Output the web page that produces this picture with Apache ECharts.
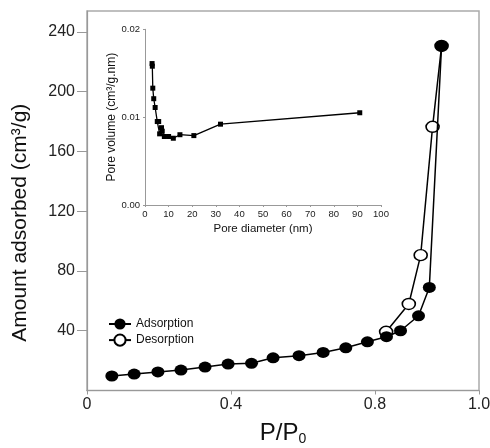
<!DOCTYPE html>
<html>
<head>
<meta charset="utf-8">
<script src="https://cdn.jsdelivr.net/npm/echarts@6/dist/echarts.min.js"></script>
<style>
html,body{margin:0;padding:0;background:#fff;}
#c{width:490px;height:448px;}
</style>
</head>
<body>
<div id="c"></div>
<script>
// Main isotherm data (P/P0, amount adsorbed cm3/g)
const adsX = [0.069, 0.131, 0.197, 0.261, 0.328, 0.392, 0.457, 0.517, 0.589, 0.656, 0.719, 0.779, 0.832, 0.871, 0.921, 0.951, 0.985];
const adsY = [9.7, 11.0, 12.4, 13.7, 15.7, 17.7, 18.2, 21.9, 23.3, 25.5, 28.6, 32.6, 36.0, 40.0, 50.0, 69.0, 230.6];
const desX = [0.985, 0.960, 0.927, 0.894, 0.831];
const desY = [230.6, 176.5, 90.6, 57.9, 39.3];
const xTickValues = [0, 0.4, 0.8, 1.089];
const yTickValues = [40, 80, 120, 160, 200, 240];

// Inset: pore size distribution (pore diameter nm, pore volume cm3/g.nm)
const poreD = [3.0, 3.1, 3.3, 3.7, 4.3, 5.2, 5.8, 6.2, 7.0, 7.3, 8.2, 10.0, 12.0, 14.8, 20.7, 32.0, 91.0];
const poreV = [0.0161, 0.0158, 0.0133, 0.0121, 0.0111, 0.0095, 0.0095, 0.0081, 0.0088, 0.0084, 0.0078, 0.0078, 0.0076, 0.0080, 0.0079, 0.0092, 0.0105];

const zip = (a, b) => a.map((v, i) => [v, b[i]]);
const FONT = '"Liberation Sans", Arial, sans-serif';

const chart = echarts.init(document.getElementById('c'), null, {renderer: 'canvas'});
chart.setOption({
  animation: false,
  backgroundColor: '#fff',
  textStyle: {fontFamily: FONT},
  legend: {
    orient: 'vertical',
    left: 103,
    top: 313,
    itemWidth: 22,
    itemHeight: 14,
    itemGap: 3.5,
    textStyle: {fontSize: 12, color: '#111', fontFamily: FONT},
    data: ['Adsorption', 'Desorption']
  },
  grid: [
    {left: 87, right: 11, top: 11, bottom: 57.5, show: true, borderColor: '#aaa', borderWidth: 1.5,
     containLabel: false, outerBoundsMode: 'none'},
    {left: 145, right: 109, top: 29.3, bottom: 243, containLabel: false, outerBoundsMode: 'none'}
  ],
  xAxis: [
    {
      gridIndex: 0, type: 'value', min: 0, max: 1.089,
      name: 'P/P{sub|0}', nameLocation: 'middle', nameGap: 30,
      nameTextStyle: {fontSize: 24, color: '#111', fontFamily: FONT,
        rich: {sub: {fontSize: 14, color: '#111', fontFamily: FONT, padding: [12, 0, 0, 0]}}},
      axisLine: {lineStyle: {color: '#999', width: 1.2}},
      axisTick: {show: true, length: 4, lineStyle: {color: '#999'}, customValues: xTickValues},
      axisLabel: {fontSize: 16, color: '#222', margin: 6, customValues: xTickValues,
        formatter: v => v > 1 ? '1.0' : (v === 0 ? '0' : v.toFixed(1))},
      splitLine: {show: false}
    },
    {
      gridIndex: 1, type: 'value', min: 0, max: 100, interval: 10,
      name: 'Pore diameter (nm)', nameLocation: 'middle', nameGap: 18,
      nameTextStyle: {fontSize: 11.5, color: '#111', fontFamily: FONT},
      axisLine: {lineStyle: {color: '#999', width: 1}},
      axisTick: {show: true, length: 2, lineStyle: {color: '#999'}},
      axisLabel: {fontSize: 9.5, color: '#222', margin: 4},
      splitLine: {show: false}
    }
  ],
  yAxis: [
    {
      gridIndex: 0, type: 'value', min: 0, max: 254,
      name: 'Amount adsorbed (cm³/g)', nameLocation: 'middle', nameGap: 56,
      nameTextStyle: {fontSize: 21, color: '#111', fontFamily: FONT, padding: [0, 44, 0, 0]},
      axisLine: {show: true, lineStyle: {color: '#999', width: 1.2}},
      axisTick: {show: true, length: 10, lineStyle: {color: '#999'}, customValues: yTickValues},
      axisLabel: {fontSize: 16, color: '#222', margin: 12, customValues: yTickValues},
      splitLine: {show: false}
    },
    {
      gridIndex: 1, type: 'value', min: 0, max: 0.02, interval: 0.01,
      name: 'Pore volume (cm³/g.nm)', nameLocation: 'middle', nameGap: 26,
      nameTextStyle: {fontSize: 12, color: '#111', fontFamily: FONT},
      axisLine: {show: true, lineStyle: {color: '#999', width: 1}},
      axisTick: {show: true, length: 2, lineStyle: {color: '#999'}},
      axisLabel: {fontSize: 9.5, color: '#222', margin: 5, formatter: v => v.toFixed(2)},
      splitLine: {show: false}
    }
  ],
  series: [
    {
      name: 'Desorption', type: 'line', xAxisIndex: 0, yAxisIndex: 0,
      data: zip(desX, desY), symbol: 'circle', symbolSize: [13, 11],
      itemStyle: {color: '#fff', borderColor: '#000', borderWidth: 1.5},
      lineStyle: {color: '#000', width: 1.5}, z: 2
    },
    {
      name: 'Adsorption', type: 'line', xAxisIndex: 0, yAxisIndex: 0,
      data: zip(adsX, adsY), symbol: 'circle', symbolSize: [13, 11],
      itemStyle: {color: '#000', borderColor: '#000', borderWidth: 0},
      lineStyle: {color: '#000', width: 1.5}, z: 3
    },
    {
      name: 'PSD', type: 'line', xAxisIndex: 1, yAxisIndex: 1,
      data: zip(poreD, poreV), symbol: 'rect', symbolSize: 5,
      itemStyle: {color: '#000'},
      lineStyle: {color: '#000', width: 1.3}, z: 3
    }
  ]
});
</script>
</body>
</html>
